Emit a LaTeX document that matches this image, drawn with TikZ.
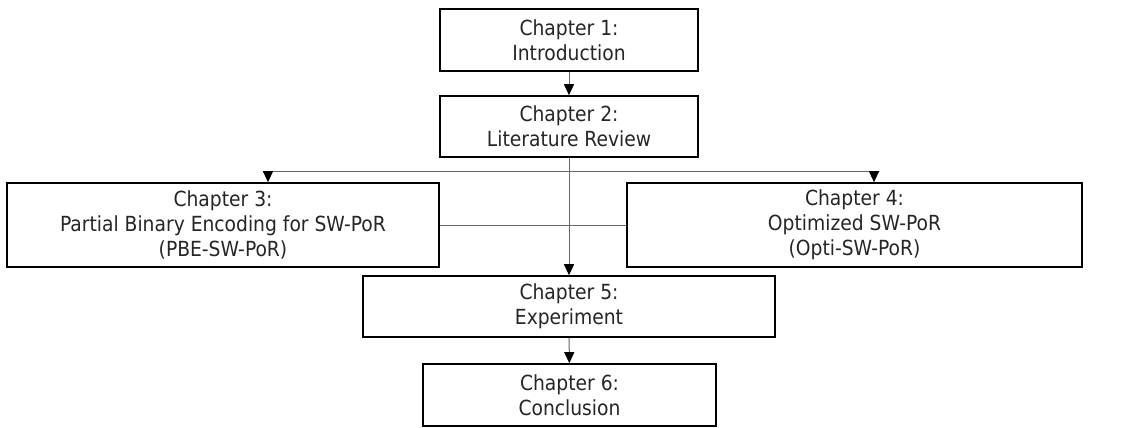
\documentclass[tikz,border=0pt]{standalone}
\usepackage{fontspec}
\setmainfont{DejaVu Sans Condensed}
\usetikzlibrary{arrows.meta}
\tikzset{
  box/.style={draw=black, line width=1.6pt, fill=white, align=center, inner sep=0pt,
    font=\fontsize{20.8}{25}\selectfont, text=black!85},
  conn/.style={draw=black!60, line width=1pt},
  arr/.style={conn, -{Triangle[length=11pt,width=10pt,fill=black,color=black]}}
}
\begin{document}
\begin{tikzpicture}[x=1pt,y=-1pt]
\useasboundingbox (0,0) rectangle (1133,428);
\node[box, minimum width=258pt, minimum height=62pt] (b1) at (569,40) {Chapter 1:\\Introduction};
\node[box, minimum width=258pt, minimum height=61pt] (b2) at (569,126.5) {Chapter 2:\\Literature Review};
\node[box, minimum width=432pt, minimum height=84pt] (b3) at (223,225) {Chapter 3:\\Partial Binary Encoding for SW-PoR\\(PBE-SW-PoR)};
\node[box, minimum width=455pt, minimum height=84pt] (b4) at (854.5,225) {Chapter 4:\\Optimized SW-PoR\\(Opti-SW-PoR)};
\node[box, minimum width=412pt, minimum height=61pt] (b5) at (569,306.5) {Chapter 5:\\Experiment};
\node[box, minimum width=293pt, minimum height=62pt] (b6) at (569.5,395) {Chapter 6:\\Conclusion};
\coordinate (l) at (268,171);
\coordinate (r) at (874,171);
\draw[arr] (b1) -- (b2);
\draw[conn] (l) -- (r);
\draw[arr] (l) -- (l |- b3.north);
\draw[arr] (r) -- (r |- b4.north);
\draw[conn] (b3.east) -- (b4.west);
\draw[arr] (b2) -- (b5);
\draw[arr] (b5) -- (b6);
\end{tikzpicture}
\end{document}
